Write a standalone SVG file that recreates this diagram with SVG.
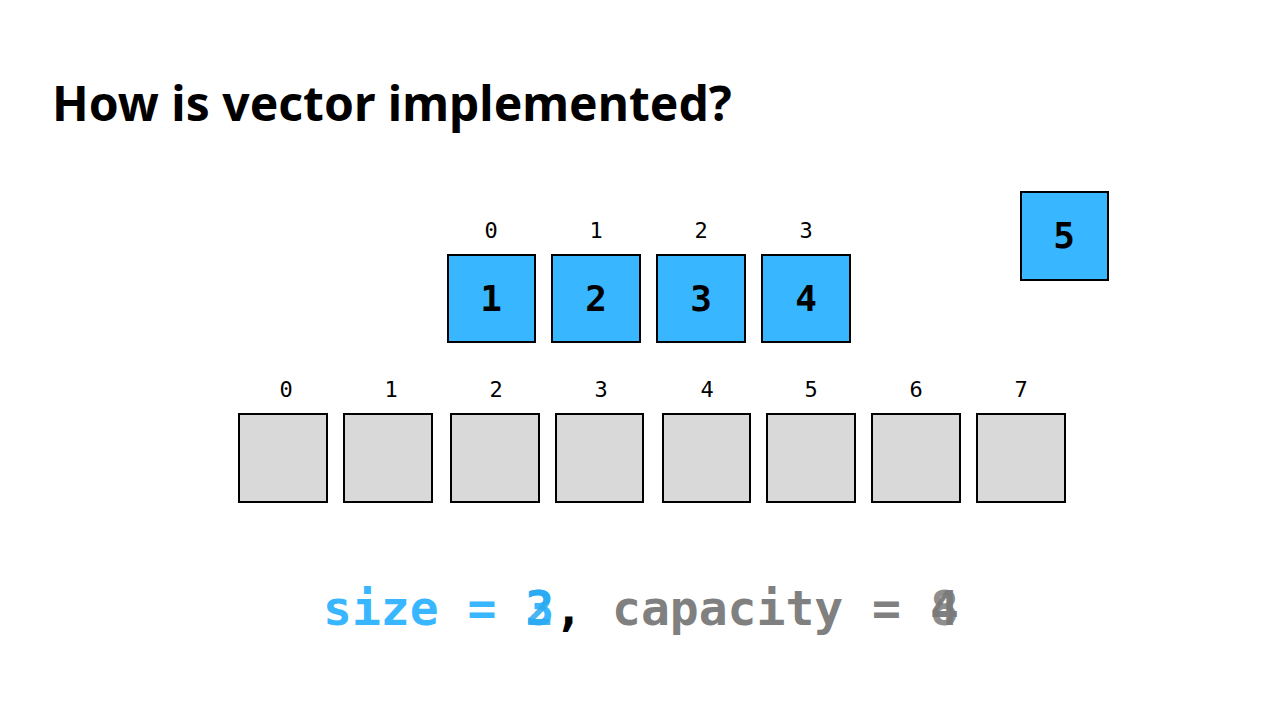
<svg xmlns="http://www.w3.org/2000/svg" width="1280" height="720" viewBox="0 0 1280 720">
<style>
.bl{fill:#38b6ff;stroke:#000;stroke-width:2}
.gr{fill:#d9d9d9;stroke:#000;stroke-width:2}
.idx{font-family:"DejaVu Sans Mono",monospace;font-size:22px;text-anchor:middle;fill:#000}
.val{font-family:"DejaVu Sans Mono",monospace;font-size:36px;font-weight:bold;text-anchor:middle;fill:#000}
.st{font-family:"DejaVu Sans Mono",monospace;font-size:48px;font-weight:bold}
</style>
<rect width="1280" height="720" fill="#fff"/>
<text x="52" y="121" font-family="'Noto Sans',sans-serif" font-weight="bold" font-size="48" fill="#000">How is vector implemented?</text>
<g id="old">
<g id="o0"><text class="idx" x="491" y="238">0</text><rect class="bl" x="448" y="255" width="87" height="87"/><text class="val" x="491" y="311">1</text></g>
<g id="o1"><text class="idx" x="596" y="238">1</text><rect class="bl" x="552" y="255" width="88" height="87"/><text class="val" x="596" y="311">2</text></g>
<g id="o2"><text class="idx" x="701" y="238">2</text><rect class="bl" x="657" y="255" width="88" height="87"/><text class="val" x="701" y="311">3</text></g>
<g id="o3"><text class="idx" x="806" y="238">3</text><rect class="bl" x="762" y="255" width="88" height="87"/><text class="val" x="806" y="311">4</text></g>
</g>
<g id="new5"><rect class="bl" x="1021" y="192" width="87" height="88"/><text class="val" x="1064" y="248">5</text></g>
<g id="newarr">
<g id="n0"><text class="idx" x="286" y="397">0</text><rect class="gr" x="239" y="414" width="88" height="88"/></g>
<g id="n1"><text class="idx" x="391" y="397">1</text><rect class="gr" x="344" y="414" width="88" height="88"/></g>
<g id="n2"><text class="idx" x="496" y="397">2</text><rect class="gr" x="451" y="414" width="88" height="88"/></g>
<g id="n3"><text class="idx" x="601" y="397">3</text><rect class="gr" x="556" y="414" width="87" height="88"/></g>
<g id="n4"><text class="idx" x="707" y="397">4</text><rect class="gr" x="663" y="414" width="87" height="88"/></g>
<g id="n5"><text class="idx" x="811" y="397">5</text><rect class="gr" x="767" y="414" width="88" height="88"/></g>
<g id="n6"><text class="idx" x="916" y="397">6</text><rect class="gr" x="872" y="414" width="88" height="88"/></g>
<g id="n7"><text class="idx" x="1021" y="397">7</text><rect class="gr" x="977" y="414" width="88" height="88"/></g>
</g>
<g id="status">
<text class="st" x="323" y="625"><tspan fill="#38b6ff">size = 3</tspan><tspan fill="#2aa8f0" fill-opacity="0.85" dx="-28.9">2</tspan><tspan fill="#000">,</tspan><tspan fill="#808080"> capacity = 4</tspan><tspan fill="#7a7a7a" fill-opacity="0.85" dx="-28.9">8</tspan></text>
</g>
</svg>
